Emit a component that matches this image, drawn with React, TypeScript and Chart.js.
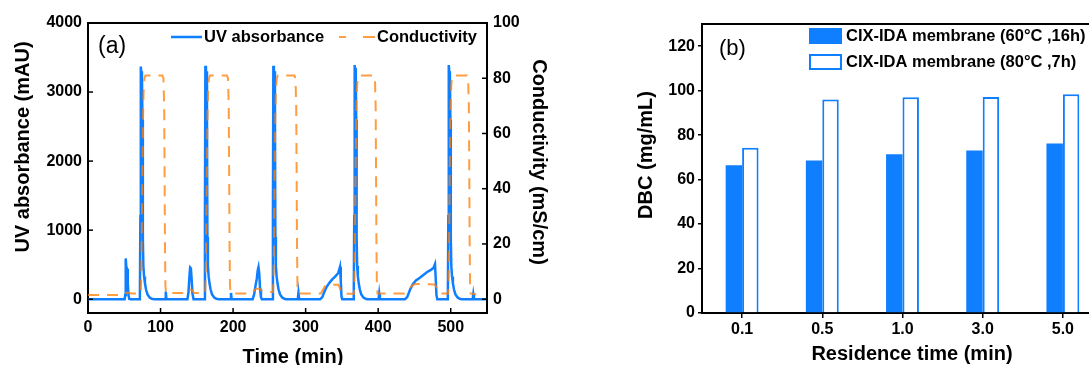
import React, { useEffect, useRef } from 'react';
import { Chart, registerables } from 'chart.js';

Chart.register(...registerables);

const FONT = "'Liberation Sans', Arial, Helvetica, sans-serif";
const BLUE = '#0F7EFF';
const ORANGE = 'rgba(255,130,10,0.78)';

// ---------- Panel (a): chromatogram ----------
const UV_TIME = [
  0, 50.5, 51.3, 52, 52.8, 53.8, 54.8, 55.8, 56.8, 58.2,
  71.5, 72.2, 72.8, 73.6, 74.3, 75, 75.6, 76.3, 77.3, 78.5, 80, 82, 85, 88, 91,
  106.3, 107.2, 108.1,
  137, 138.5, 139.8, 140.8, 141.8, 142.8, 144, 145.5,
  160.5, 161.2, 161.8, 162.6, 163.3, 164, 164.6, 165.3, 166.3, 167.5, 169, 171, 174, 177, 180,
  196.2, 197.1, 198,
  227, 229, 231, 232.7, 234, 235, 236, 237.2, 238.4, 239.5,
  254.2, 254.9, 255.5, 256.3, 257, 257.7, 258.3, 259, 260, 261.2, 262.7, 264.7, 267.7, 270.7, 273,
  289.2, 290.1, 291,
  320, 323, 326, 329, 333, 337, 341, 345, 347.4, 348.4, 349.4, 350.5,
  366.3, 367, 367.6, 368.3, 369, 369.7, 370.3, 371, 372, 373.2, 374.7, 376.7, 379.7, 382.7, 385,
  400.5, 401.4, 402.3,
  437, 440, 444, 448, 452, 456, 461, 467, 472, 476, 478.3, 479.3, 480.3, 481.5,
  496, 496.7, 497.3, 498.1, 498.8, 499.5, 500.1, 500.8, 501.8, 503, 504.5, 506.5, 509.5, 512.5, 515,
  530.2, 531.1, 532, 549,
];
const UV_VALUES = [
  0, 0, 60, 590, 470, 440, 250, 60, 5, 0,
  0, 1200, 3370, 3250, 3300, 2600, 900, 480, 330, 230, 140, 70, 25, 5, 0,
  0, 110, 0,
  0, 100, 330, 460, 450, 300, 80, 0,
  0, 1200, 3380, 3260, 3300, 2600, 900, 480, 330, 230, 140, 70, 25, 5, 0,
  0, 90, 0,
  0, 70, 200, 300, 420, 465, 380, 150, 30, 0,
  0, 1200, 3380, 3260, 3300, 2600, 900, 480, 330, 230, 140, 70, 25, 5, 0,
  0, 90, 0,
  0, 30, 110, 180, 240, 290, 330, 380, 470, 280, 40, 0,
  0, 1200, 3390, 3200, 3350, 2600, 900, 480, 330, 230, 140, 70, 25, 5, 0,
  0, 80, 0,
  0, 30, 140, 220, 270, 300, 340, 390, 420, 450, 510, 300, 60, 0,
  0, 1200, 3390, 3280, 3300, 2600, 900, 480, 330, 230, 140, 70, 25, 5, 0,
  0, 70, 0, 0,
];
const COND_TIME = [
  0, 50, 52.5, 56, 60,
  72.6, 73.4, 74.2, 75, 75.8, 76.6, 77.6, 79, 102.5, 104, 105, 105.6, 106.1, 106.7, 107.6,
  135, 137.5, 141, 144, 146,
  161.5, 162.3, 163.1, 163.9, 164.7, 165.5, 166.5, 168, 191.5, 193, 194, 194.6, 195.1, 195.7, 196.6,
  226, 229, 232, 236, 240, 245,
  255, 255.8, 256.6, 257.4, 258.2, 259, 260, 261.5, 284.5, 286, 287, 287.6, 288.1, 288.7, 289.6,
  321, 324, 327, 331, 345, 347, 349, 351,
  366.5, 367.3, 368.1, 368.9, 369.7, 370.5, 371.5, 373, 394, 395.5, 396.5, 397.1, 397.6, 398.2, 399.1,
  436, 440, 444, 448, 452, 478, 481, 483, 485,
  496.3, 497.1, 497.9, 498.7, 499.5, 500.3, 501.3, 502.8, 522.5, 524, 525, 525.6, 526.1, 526.7, 527.6,
  535,
];
const COND_VALUES = [
  1.5, 1.5, 2.3, 2.3, 2.1,
  2.1, 8, 25, 48, 65, 75, 79.5, 81, 81, 80, 70, 45, 20, 5, 2.2,
  2.2, 3.2, 3.5, 3.2, 2.2,
  2.2, 8, 25, 48, 65, 75, 79.5, 81, 81, 80, 70, 45, 20, 5, 2.1,
  2.1, 3.2, 3.8, 3.8, 3.0, 2.6,
  2.6, 8, 25, 48, 65, 75, 79.5, 81, 81, 80, 70, 45, 20, 5, 2.1,
  2.1, 3.5, 4.8, 5.2, 5.2, 4.2, 2.5, 2.0,
  2.0, 8, 25, 48, 65, 75, 79.5, 81, 81, 80, 70, 45, 20, 5, 2.1,
  2.1, 2.8, 4.2, 5.2, 5.5, 5.3, 4.0, 2.6, 2.1,
  2.1, 8, 25, 48, 65, 75, 79.5, 81, 81, 80, 70, 45, 20, 5, 2.0,
  1.8,
];
const TIME_TICKS = [0, 100, 200, 300, 400, 500];
const UV_TICKS = [0, 1000, 2000, 3000, 4000];
const COND_TICKS = [0, 20, 40, 60, 80, 100];

// ---------- Panel (b): DBC bars ----------
const RESIDENCE_TIMES = ['0.1', '0.5', '1.0', '3.0', '5.0'];
const DBC_60C_16H = [66.5, 68.6, 71.4, 73.1, 76.2];
const DBC_80C_7H = [74.3, 96.0, 97.1, 97.2, 98.4];
const DBC_TICKS = [0, 20, 40, 60, 80, 100, 120];

const decorPlugin = {
  id: 'decor',
  afterDraw(chart: any, _args: any, opts: any) {
    const ctx = chart.ctx as CanvasRenderingContext2D;
    const { left, right, top, bottom } = chart.chartArea;
    ctx.save();
    ctx.strokeStyle = '#000';
    ctx.lineWidth = 2;
    ctx.beginPath();
    ctx.moveTo(left - 1, top);
    ctx.lineTo(right + 1, top);
    if (opts.rightLine) {
      ctx.moveTo(right, top);
      ctx.lineTo(right, bottom);
    }
    ctx.stroke();
    if (opts.innerTicks) {
      const L = opts.innerTicks;
      ctx.lineWidth = 1.5;
      Object.values(chart.scales).forEach((s: any) => {
        s.ticks.forEach((t: any) => {
          const p = s.getPixelForValue(t.value);
          ctx.beginPath();
          if (s.isHorizontal()) {
            ctx.moveTo(p, bottom);
            ctx.lineTo(p, bottom - L);
          } else if (s.position === 'left') {
            ctx.moveTo(left, p);
            ctx.lineTo(left + L, p);
          } else {
            ctx.moveTo(right, p);
            ctx.lineTo(right - L, p);
          }
          ctx.stroke();
        });
      });
    }
    ctx.fillStyle = '#000';
    ctx.textBaseline = 'middle';
    if (opts.tag) {
      ctx.font = `${opts.tag.size}px ${FONT}`;
      ctx.textAlign = 'left';
      ctx.fillText(opts.tag.text, opts.tag.x, opts.tag.y);
    }
    (opts.titles || []).forEach((t: any) => {
      ctx.save();
      ctx.translate(t.x, t.y);
      ctx.rotate(t.rot || 0);
      ctx.font = `bold ${t.size}px ${FONT}`;
      ctx.textAlign = 'center';
      ctx.fillStyle = '#000';
      ctx.fillText(t.text, 0, 0);
      ctx.restore();
    });
    (opts.legend || []).forEach((item: any) => {
      const ds = chart.data.datasets[item.index];
      if (item.kind === 'line') {
        ctx.strokeStyle = ds.borderColor;
        ctx.lineWidth = ds.borderWidth;
        ctx.setLineDash(item.dash || []);
        ctx.lineDashOffset = item.dashOffset || 0;
        ctx.beginPath();
        ctx.moveTo(item.x, item.y);
        ctx.lineTo(item.x + item.w, item.y);
        ctx.stroke();
        ctx.setLineDash([]);
      } else {
        ctx.fillStyle = ds.backgroundColor;
        ctx.fillRect(item.x, item.y - item.h / 2, item.w, item.h);
        const bw = ds.borderWidth || 0;
        if (bw) {
          ctx.strokeStyle = ds.borderColor;
          ctx.lineWidth = bw;
          ctx.strokeRect(item.x + bw / 2, item.y - item.h / 2 + bw / 2, item.w - bw, item.h - bw);
        }
      }
      ctx.fillStyle = '#000';
      ctx.font = `bold ${opts.legendSize}px ${FONT}`;
      ctx.textAlign = 'left';
      ctx.fillText(ds.label, item.tx, item.y);
    });
    ctx.restore();
  },
};

const tickFont = { family: FONT, size: 16, weight: 'bold' as const };

export default function App() {
  const refA = useRef<HTMLCanvasElement>(null);
  const refB = useRef<HTMLCanvasElement>(null);

  useEffect(() => {
    const uvPoints = UV_TIME.map((t, i) => ({ x: t, y: UV_VALUES[i] }));
    const condPoints = COND_TIME.map((t, i) => ({ x: t, y: COND_VALUES[i] }));

    const chartA = new Chart(refA.current as HTMLCanvasElement, {
      type: 'line',
      data: {
        datasets: [
          {
            label: 'UV absorbance',
            data: uvPoints,
            borderColor: BLUE,
            borderWidth: 2.5,
            pointRadius: 0,
            tension: 0,
            yAxisID: 'y',
            order: 1,
          },
          {
            label: 'Conductivity',
            data: condPoints,
            borderColor: ORANGE,
            borderWidth: 2,
            borderDash: [11, 8],
            pointRadius: 0,
            tension: 0,
            yAxisID: 'y1',
            order: 0,
          },
        ],
      },
      options: {
        responsive: false,
        maintainAspectRatio: false,
        animation: false,
        layout: { padding: { top: 23, left: 0, right: 0, bottom: 0 } },
        scales: {
          x: {
            type: 'linear',
            min: 0,
            max: 550,
            afterBuildTicks: (s: any) => { s.ticks = TIME_TICKS.map((v) => ({ value: v })); },
            afterFit: (s: any) => { s.height = 52; },
            grid: { display: false, drawTicks: false },
            border: { display: true, color: '#000', width: 2 },
            ticks: { color: '#000', font: tickFont, padding: 5, maxRotation: 0, callback: (v: any) => String(v) },
          },
          y: {
            type: 'linear',
            position: 'left',
            min: -200,
            max: 4000,
            afterBuildTicks: (s: any) => { s.ticks = UV_TICKS.map((v) => ({ value: v })); },
            afterFit: (s: any) => { s.width = 88; },
            grid: { display: false, drawTicks: false },
            border: { display: true, color: '#000', width: 2 },
            ticks: { color: '#000', font: tickFont, padding: 6, callback: (v: any) => String(v) },
          },
          y1: {
            type: 'linear',
            position: 'right',
            min: -5,
            max: 100,
            afterBuildTicks: (s: any) => { s.ticks = COND_TICKS.map((v) => ({ value: v })); },
            afterFit: (s: any) => { s.width = 73; },
            grid: { display: false, drawTicks: false },
            border: { display: true, color: '#000', width: 2 },
            ticks: { color: '#000', font: tickFont, padding: 6, callback: (v: any) => String(v) },
          },
        },
        plugins: {
          legend: { display: false },
          tooltip: { enabled: false },
          decor: {
            innerTicks: 5,
            rightLine: false,
            tag: { text: '(a)', x: 98, y: 47, size: 23 },
            titles: [
              { text: 'UV absorbance (mAU)', x: 23, y: 147, rot: -Math.PI / 2, size: 20 },
              { text: 'Conductivity (mS/cm)', x: 539, y: 162, rot: Math.PI / 2, size: 20 },
              { text: 'Time (min)', x: 293, y: 357, rot: 0, size: 20 },
            ],
            legendSize: 16.5,
            legend: [
              { index: 0, kind: 'line', x: 171, y: 37, w: 31, tx: 204 },
              { index: 1, kind: 'line', x: 339, y: 37, w: 36, tx: 377, dash: [12, 17], dashOffset: 5 },
            ],
          },
        } as any,
      },
      plugins: [decorPlugin],
    } as any);

    const chartB = new Chart(refB.current as HTMLCanvasElement, {
      type: 'bar',
      data: {
        labels: RESIDENCE_TIMES,
        datasets: [
          {
            label: 'CIX-IDA membrane (60°C ,16h)',
            data: DBC_60C_16H,
            backgroundColor: BLUE,
            borderWidth: 0,
            categoryPercentage: 0.41,
            barPercentage: 1,
          },
          {
            label: 'CIX-IDA membrane (80°C ,7h)',
            data: DBC_80C_7H,
            backgroundColor: '#ffffff',
            borderColor: BLUE,
            borderWidth: 2,
            categoryPercentage: 0.41,
            barPercentage: 1,
          },
        ],
      },
      options: {
        responsive: false,
        maintainAspectRatio: false,
        animation: false,
        layout: { padding: { top: 24, left: 0, right: 37, bottom: 0 } },
        scales: {
          x: {
            type: 'category',
            afterFit: (s: any) => { s.height = 52; },
            grid: { display: true, drawOnChartArea: false, drawTicks: true, tickLength: 5, offset: false, color: '#000', lineWidth: 1.5 },
            border: { display: true, color: '#000', width: 2 },
            ticks: { color: '#000', font: tickFont, padding: 2, maxRotation: 0 },
          },
          y: {
            type: 'linear',
            min: 0,
            max: 130,
            afterBuildTicks: (s: any) => { s.ticks = DBC_TICKS.map((v) => ({ value: v })); },
            afterFit: (s: any) => { s.width = 82; },
            grid: { display: true, drawOnChartArea: false, drawTicks: true, tickLength: 4, color: '#000', lineWidth: 1.5 },
            border: { display: true, color: '#000', width: 2 },
            ticks: { color: '#000', font: tickFont, padding: 3, callback: (v: any) => String(v) },
          },
        },
        plugins: {
          legend: { display: false },
          tooltip: { enabled: false },
          decor: {
            innerTicks: 0,
            rightLine: true,
            tag: { text: '(b)', x: 99, y: 49, size: 22 },
            titles: [
              { text: 'DBC (mg/mL)', x: 26, y: 155, rot: -Math.PI / 2, size: 20 },
              { text: 'Residence time (min)', x: 292, y: 354, rot: 0, size: 20 },
            ],
            legendSize: 16.5,
            legend: [
              { index: 0, kind: 'box', x: 189, y: 36, w: 33, h: 16, tx: 226 },
              { index: 1, kind: 'box', x: 189, y: 62, w: 33, h: 16, tx: 226 },
            ],
          },
        } as any,
      },
      plugins: [decorPlugin],
    } as any);

    return () => {
      chartA.destroy();
      chartB.destroy();
    };
  }, []);

  return (
    <div style={{ position: 'fixed', left: 0, top: 0, width: 1089, height: 365, overflow: 'hidden', background: '#fff' }}>
      <canvas ref={refA} width={560} height={365} style={{ position: 'absolute', left: 0, top: 0, width: 560, height: 365 }} />
      <canvas ref={refB} width={520} height={365} style={{ position: 'absolute', left: 620, top: 0, width: 520, height: 365 }} />
    </div>
  );
}
